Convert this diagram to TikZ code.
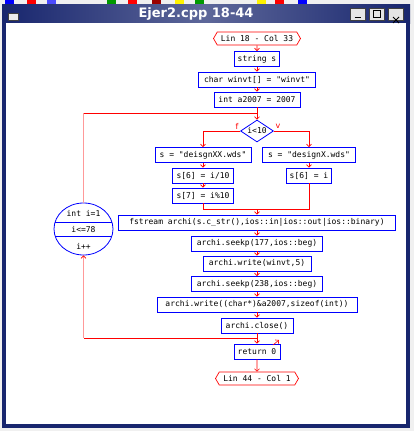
\documentclass[tikz,border=0pt]{standalone}
\usepackage{fontspec}
\setmainfont{DejaVu Sans}
\setsansfont{DejaVu Sans}
\setmonofont{DejaVu Sans Mono}
\usetikzlibrary{shapes.geometric,shapes.symbols,arrows.meta}
\definecolor{barra}{RGB}{24,38,110}
\newcommand{\codice}{\ttfamily\fontsize{8}{9}\selectfont}
\tikzset{
  istr/.style={draw=blue, line width=0.9pt, fill=white, font=\codice, minimum height=15pt, inner xsep=3pt, inner ysep=0pt},
  term/.style={signal, signal to=west and east, signal pointer angle=120, draw=red, line width=0.7pt, fill=white, font=\codice, minimum height=13pt, inner xsep=3pt, inner ysep=0pt},
  flusso/.style={draw=red, line width=0.6pt, -{Straight Barb[length=2.5pt,width=5pt]}},
  bottone/.style={draw=gray!50!black, fill=gray!20, minimum width=15pt, minimum height=12pt, inner sep=0pt},
}
\begin{document}
\begin{tikzpicture}[x=1pt,y=-1pt]
        \useasboundingbox (0,0) rectangle (414,431);
        %disegno finestra
        \fill[gray!12] (0,0) rectangle (414,431); %sfondo
        \foreach \xx/\cc in {5/blue,27/red,47/blue!70,107/green!60!black,128/red,152/red!60!black,175/yellow,195/green!60!black,257/yellow,275/red,298/blue} 
          \fill[\cc] (\xx,0) rectangle ++(9,4); %icone barra strumenti
        \fill[barra] (2,4) rectangle (410,428); %bordo
        \shade[left color=barra, right color=barra, middle color=barra!70!white] (2,4) rectangle (410,23); %barra titolo
        \fill[white] (6,23) rectangle (406,424); %area disegno
        \node[white, font=\sffamily\bfseries\fontsize{13}{14}\selectfont] (titolo) at (196,14) {Ejer2.cpp 18-44};
        \node[draw=gray!50!black, fill=gray!15, minimum width=10pt, minimum height=7pt, inner sep=0pt] (icona) at (13,16.5) {};
        \node[bottone] (riduci) at (357.5,14) {};
        \node[bottone] (ingrandisci) at (377,14) {};
        \node[bottone] (chiudi) at (396,14) {};
        \draw[line width=1pt] ([xshift=-3pt,yshift=-3pt]riduci.center) -- ++(6,0);
        \draw[line width=0.7pt] ([xshift=-3.5pt,yshift=-3.5pt]ingrandisci.center) rectangle ++(7,-7);
        \draw[line width=1pt] ([xshift=-3pt,yshift=-3pt]chiudi.center) -- ++(6,6) ([xshift=3pt,yshift=-3pt]chiudi.center) -- ++(-6,6);
        %disegno diagramma
        \node[term, minimum width=87pt] (inizio) at (257,38.5) {Lin 18 - Col 33};
        \node[istr, minimum width=45pt] (strs) at (257,59) {string s};
        \node[istr, minimum width=117pt] (winvt) at (257,79.5) {char winvt[] = "winvt"};
        \node[istr, minimum width=86pt] (anno) at (257,99.5) {int a2007 = 2007};
        \node[diamond, draw=blue, line width=0.8pt, fill=white, font=\codice, aspect=1.5, minimum width=33pt, minimum height=22pt, inner sep=0pt] (cond) at (257,131) {i<10};
        \node[red, font=\sffamily\fontsize{8}{9}\selectfont] (lf) at (237,126) {f};
        \node[red, font=\sffamily\fontsize{8}{9}\selectfont] (lv) at (278,126) {v};
        \node[istr, minimum width=96pt] (sxx) at (203,155) {s = "deisgnXX.wds"};
        \node[istr, minimum width=93pt] (sx) at (309,155) {s = "designX.wds"};
        \node[istr, minimum width=61pt] (sseia) at (203,175.5) {s[6] = i/10};
        \node[istr, minimum width=61pt] (ssette) at (203,195.5) {s[7] = i\%10};
        \node[istr, minimum width=45pt] (sseib) at (309,175.5) {s[6] = i};
        \node[istr, minimum width=277pt] (fst) at (257,222.5) {fstream archi(s.c\_str(),ios::in|ios::out|ios::binary)};
        \node[istr, minimum width=131pt] (seeka) at (257,243.5) {archi.seekp(177,ios::beg)};
        \node[istr, minimum width=108pt] (scrivia) at (257,263.5) {archi.write(winvt,5)};
        \node[istr, minimum width=131pt] (seekb) at (257,284) {archi.seekp(238,ios::beg)};
        \node[istr, minimum width=200pt] (scrivib) at (257,304.5) {archi.write((char*)\&a2007,sizeof(int))};
        \node[istr, minimum width=72pt] (chiusura) at (257,325.5) {archi.close()};
        \node[istr, minimum width=46pt] (ritorno) at (257,351.5) {return 0};
        \node[term, minimum width=83pt] (fine) at (257,378.5) {Lin 44 - Col 1};
        %disegno ciclo for
        \node[ellipse, draw=blue, line width=0.8pt, fill=white, minimum width=59pt, minimum height=52pt, inner sep=0pt] (ciclo) at (83.5,229) {};
        \draw[blue, line width=0.7pt] ([xshift=-28.4pt,yshift=7pt]ciclo.center) -- ++(56.8,0); %riga sopra
        \draw[blue, line width=0.7pt] ([xshift=-28.4pt,yshift=-7pt]ciclo.center) -- ++(56.8,0); %riga sotto
        \node[font=\codice] (init) at (83.5,213) {int i=1};
        \node[font=\codice] (test) at (83.5,229.5) {i<=78};
        \node[font=\codice] (incr) at (83.5,246) {i++};
        %frecce
        \draw[flusso] (inizio) -- (strs);
        \draw[flusso] (strs) -- (winvt);
        \draw[flusso] (winvt) -- (anno);
        \draw[flusso] (anno) -- (cond);
        \draw[flusso] (cond.west) -| (sxx.north); %ramo falso
        \draw[flusso] (cond.east) -| (sx.north); %ramo vero
        \draw[flusso] (sxx) -- (sseia);
        \draw[flusso] (sseia) -- (ssette);
        \draw[flusso] (sx) -- (sseib);
        \coordinate (giunto) at (257,209);
        \draw[red, line width=0.6pt] (ssette.south) |- (giunto);
        \draw[red, line width=0.6pt] (sseib.south) |- (giunto);
        \draw[flusso] (giunto) -- (fst.north);
        \draw[flusso] (fst) -- (seeka);
        \draw[flusso] (seeka) -- (scrivia);
        \draw[flusso] (scrivia) -- (seekb);
        \draw[flusso] (seekb) -- (scrivib);
        \draw[flusso] (scrivib) -- (chiusura);
        \draw[flusso] (chiusura) -- (ritorno);
        \draw[flusso] (ritorno) -- (fine);
        %ritorno del ciclo
        \coordinate (sopra) at (257,113);
        \coordinate (sotto) at (257,338);
        \draw[red!40, line width=1pt] (ciclo.north) -- (ciclo.north |- sopra);
        \draw[red, line width=0.6pt] (ciclo.north |- sopra) -- (sopra);
        \draw[red, line width=0.6pt] (sotto) -- (ciclo.south |- sotto);
        \draw[red!40, line width=1pt, -{Straight Barb[length=2.5pt,width=5pt,color=red,line width=0.6pt]}] (ciclo.south |- sotto) -- (ciclo.south);
        \coordinate (uscita) at (273,345);
        \draw[flusso] (uscita) -- ++(6,-5); %freccina
\end{tikzpicture}
\end{document}
